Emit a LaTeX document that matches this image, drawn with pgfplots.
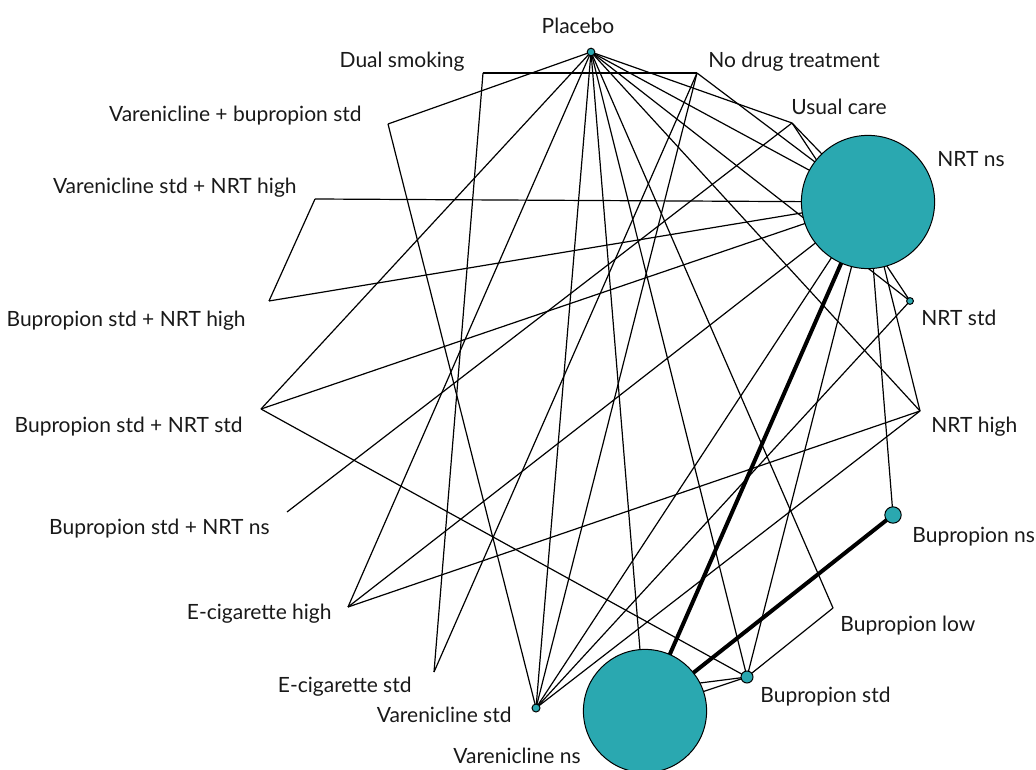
\documentclass[border=0pt]{standalone}
\usepackage{pgfplots}
\pgfplotsset{compat=1.18}
\usepackage{fontspec}
\setmainfont{Lato}
\definecolor{nodefill}{RGB}{42,168,176}

\pgfplotsset{
  edge/.style={black, line width=0.6pt, no marks},
  thickedge/.style={black, line width=2pt, no marks},
  trt/.style={only marks, mark=*, mark size=#1,
    mark options={draw=black, fill=nodefill, line width=0.5pt}},
}
\tikzset{
  lbl/.style={font=\fontsize{10.5}{12}\selectfont, inner sep=0pt, text=black!90,
              text height=1.5ex, text depth=0.25ex},
}

\begin{document}
\begin{tikzpicture}
\begin{axis}[scale only axis, width=518pt, height=384.5pt,
  xmin=0, xmax=1036, ymin=0, ymax=769, y dir=reverse,
  hide axis, clip=false]

% comparisons (one segment per edge)
\addplot[edge] coordinates {(591,52) (388,124)};
\addplot[edge] coordinates {(591,52) (261,409)};
\addplot[edge] coordinates {(591,52) (348,607)};
\addplot[edge] coordinates {(591,52) (536,708)};
\addplot[edge] coordinates {(591,52) (645,711)};
\addplot[edge] coordinates {(591,52) (747,677)};
\addplot[edge] coordinates {(591,52) (833,608)};
\addplot[edge] coordinates {(591,52) (920,411)};
\addplot[edge] coordinates {(591,52) (910,301)};
\addplot[edge] coordinates {(591,52) (868,202)};
\addplot[edge] coordinates {(591,52) (792,123)};
\addplot[edge] coordinates {(697,73) (483,73)};
\addplot[edge] coordinates {(697,73) (434,672)};
\addplot[edge] coordinates {(697,73) (536,708)};
\addplot[edge] coordinates {(697,73) (868,202)};
\addplot[edge] coordinates {(792,123) (287,512)};
\addplot[edge] coordinates {(792,123) (868,202)};
\addplot[edge] coordinates {(792,123) (910,301)};
\addplot[edge] coordinates {(868,202) (315,199)};
\addplot[edge] coordinates {(868,202) (269,301)};
\addplot[edge] coordinates {(868,202) (261,409)};
\addplot[edge] coordinates {(868,202) (348,607)};
\addplot[edge] coordinates {(868,202) (536,708)};
\addplot[edge] coordinates {(868,202) (747,677)};
\addplot[edge] coordinates {(868,202) (893,515)};
\addplot[edge] coordinates {(868,202) (920,411)};
\addplot[edge] coordinates {(910,301) (536,708)};
\addplot[edge] coordinates {(920,411) (348,607)};
\addplot[edge] coordinates {(920,411) (536,708)};
\addplot[edge] coordinates {(833,608) (747,677)};
\addplot[edge] coordinates {(747,677) (261,409)};
\addplot[edge] coordinates {(747,677) (645,711)};
\addplot[edge] coordinates {(747,677) (645,690)};
\addplot[edge] coordinates {(536,708) (388,124)};
\addplot[edge] coordinates {(434,672) (483,73)};
\addplot[edge] coordinates {(269,301) (315,199)};
\addplot[thickedge] coordinates {(868,202) (645,711)};
\addplot[thickedge] coordinates {(893,515) (645,711)};

% treatment circles, radius in pt
\addplot[trt=1.9pt]  coordinates {(591,52)};
\addplot[trt=33.3pt] coordinates {(868,202)};
\addplot[trt=1.7pt]  coordinates {(910,301)};
\addplot[trt=4.1pt]  coordinates {(893,515)};
\addplot[trt=3.0pt]  coordinates {(747,677)};
\addplot[trt=30.8pt] coordinates {(645,711)};
\addplot[trt=2.0pt]  coordinates {(536,708)};

% treatment names
\node[lbl, anchor=center] at (axis cs:578,27) {Placebo};
\node[lbl, anchor=west] at (axis cs:708,61) {No drug treatment};
\node[lbl, anchor=west] at (axis cs:791,108) {Usual care};
\node[lbl, anchor=west] at (axis cs:937,160) {NRT ns};
\node[lbl, anchor=west] at (axis cs:921,319) {NRT std};
\node[lbl, anchor=west] at (axis cs:931,426) {NRT high};
\node[lbl, anchor=west] at (axis cs:912,536) {Bupropion ns};
\node[lbl, anchor=west] at (axis cs:840,625) {Bupropion low};
\node[lbl, anchor=west] at (axis cs:760,696) {Bupropion std};
\node[lbl, anchor=center] at (axis cs:517,757) {Varenicline ns};
\node[lbl, anchor=east] at (axis cs:512,716) {Varenicline std};
\node[lbl, anchor=east] at (axis cs:412,686) {E-cigarette std};
\node[lbl, anchor=east] at (axis cs:332,613) {E-cigarette high};
\node[lbl, anchor=east] at (axis cs:270,528) {Bupropion std + NRT ns};
\node[lbl, anchor=east] at (axis cs:243,426) {Bupropion std + NRT std};
\node[lbl, anchor=east] at (axis cs:246,320) {Bupropion std + NRT high};
\node[lbl, anchor=east] at (axis cs:297,187) {Varenicline std + NRT high};
\node[lbl, anchor=east] at (axis cs:362,115) {Varenicline + bupropion std};
\node[lbl, anchor=east] at (axis cs:465,61) {Dual smoking};

\coordinate (bbsw) at (axis cs:0,769);
\coordinate (bbne) at (axis cs:1036,0);
\end{axis}
\pgfresetboundingbox
\path[use as bounding box] (bbsw) rectangle (bbne);
\end{tikzpicture}
\end{document}
